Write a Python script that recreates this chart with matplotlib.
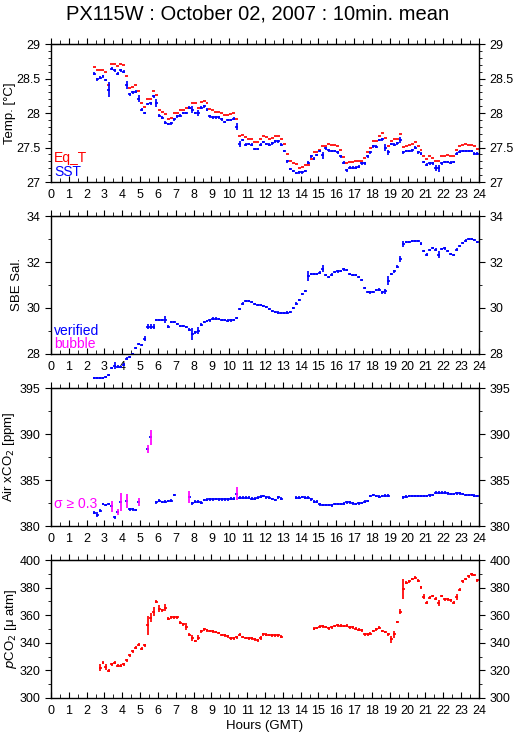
import numpy as np
import matplotlib
matplotlib.use("Agg")
import matplotlib.pyplot as plt
from matplotlib.ticker import MultipleLocator

plt.rcParams['font.family'] = ['Liberation Sans', 'DejaVu Sans']

nan = np.nan

# 10-min means, first one centred at 02:25 GMT
t_start = 2 + 25 / 60.0
t_step = 10 / 60.0

eq_t = [28.66, 28.62, 28.62, 28.62, 28.60, 28.41, 28.71, 28.71, 28.68, 28.71,
        28.69, 28.54, 28.36, 28.38, 28.40, 28.32, 28.15, 28.09, 28.20, 28.21,
        28.32, 28.26, 28.05, 28.02, 27.98, 27.92, 27.93, 28.00, 28.00, 28.04,
        28.05, 28.07, 28.07, 28.14, 28.15, 28.08, 28.16, 28.17, 28.15, 28.06,
        28.04, 28.02, 28.02, 28.00, 27.97, 27.97, 27.99, 28.00, 27.91, 27.66,
        27.68, 27.65, 27.63, 27.63, 27.58, 27.58, 27.63, 27.67, 27.65, 27.63,
        27.64, 27.67, 27.67, 27.63, 27.55, 27.40, 27.30, 27.28, 27.26, 27.21,
        27.22, 27.24, 27.25, 27.34, 27.43, 27.43, 27.46, 27.52, 27.52, 27.55,
        27.54, 27.53, 27.52, 27.47, 27.36, 27.27, 27.29, 27.29, 27.30, 27.30,
        27.31, 27.35, 27.44, 27.50, 27.60, 27.60, 27.66, 27.71, 27.64, 27.52,
        27.60, 27.62, 27.63, 27.70, 27.51, 27.52, 27.54, 27.55, 27.58, 27.52,
        27.47, 27.37, 27.34, 27.37, 27.35, 27.31, 27.31, 27.38, 27.38, 27.39,
        27.38, 27.38, 27.47, 27.52, 27.53, 27.55, 27.54, 27.54, 27.52, 27.48]

sst = [28.57, 28.49, 28.51, 28.53, 28.48, 28.34, 28.64, 28.62, 28.57, 28.62,
       28.60, 28.41, 28.27, 28.30, 28.31, 28.21, 28.05, 28.00, 28.13, 28.14,
       28.24, 28.15, 27.96, 27.93, 27.86, 27.84, 27.85, 27.91, 27.95, 27.96,
       28.00, 28.00, 28.08, 28.05, 28.00, 28.00, 28.08, 28.10, 28.05, 27.95,
       27.94, 27.94, 27.94, 27.91, 27.87, 27.90, 27.90, 27.92, 27.80, 27.55,
       27.61, 27.54, 27.55, 27.54, 27.48, 27.48, 27.54, 27.58, 27.55, 27.54,
       27.56, 27.59, 27.59, 27.54, 27.45, 27.30, 27.19, 27.16, 27.13, 27.14,
       27.14, 27.16, 27.28, 27.37, 27.34, 27.39, 27.45, 27.39, 27.49, 27.46,
       27.45, 27.45, 27.43, 27.37, 27.28, 27.17, 27.21, 27.21, 27.21, 27.22,
       27.27, 27.27, 27.37, 27.43, 27.52, 27.51, 27.61, 27.62, 27.50, 27.43,
       27.55, 27.54, 27.56, 27.61, 27.43, 27.45, 27.45, 27.46, 27.50, 27.43,
       27.41, 27.29, 27.25, 27.27, 27.27, 27.20, 27.20, 27.27, 27.29, 27.29,
       27.28, 27.29, 27.41, 27.44, 27.45, 27.45, 27.45, 27.45, 27.41, 27.41]
sst_err = 0.02
sst_big_err = {5: 0.11, 11: 0.06, 15: 0.05, 21: 0.06, 33: 0.05, 35: 0.04,
               48: 0.05, 49: 0.04, 77: 0.05, 98: 0.05, 99: 0.04, 103: 0.04,
               115: 0.04, 116: 0.05}

sal = [26.97, 26.96, 26.97, 26.97, 27.00, 27.08, 27.38, 27.49, 27.45, 27.44,
       27.54, 27.80, 27.88, 28.01, 28.26, 28.43, 28.39, 28.67, 29.19, 29.19,
       29.19, 29.48, 29.48, 29.48, 29.48, 29.19, 29.38, 29.39, 29.30, 29.23,
       29.23, 29.16, 29.06, 28.87, 28.94, 29.01, 29.28, 29.39, 29.42, 29.46,
       29.54, 29.54, 29.52, 29.48, 29.48, 29.45, 29.46, 29.49, 29.57, 29.97,
       30.19, 30.29, 30.29, 30.26, 30.17, 30.14, 30.12, 30.10, 30.04, 29.97,
       29.88, 29.83, 29.80, 29.77, 29.78, 29.80, 29.83, 30.00, 30.19, 30.36,
       30.62, 30.74, 31.39, 31.49, 31.49, 31.49, 31.54, 31.71, 31.42, 31.36,
       31.45, 31.57, 31.59, 31.61, 31.68, 31.65, 31.49, 31.42, 31.42, 31.36,
       31.22, 30.88, 30.71, 30.68, 30.71, 30.78, 30.80, 30.68, 30.72, 31.19,
       31.48, 31.59, 31.80, 32.13, 32.78, 32.86, 32.88, 32.91, 32.91, 32.90,
       32.80, 32.49, 32.32, 32.52, 32.61, 32.54, 32.32, 32.58, 32.59, 32.49,
       32.35, 32.30, 32.54, 32.71, 32.83, 32.93, 32.99, 33.00, 32.97, 32.87]
sal_err = 0.05
sal_big_err = {7: 0.15, 17: 0.12, 18: 0.1, 19: 0.1, 20: 0.1, 24: 0.15,
               33: 0.25, 35: 0.15, 72: 0.2, 77: 0.15, 98: 0.1, 99: 0.18,
               103: 0.12, 104: 0.12, 116: 0.15}

air = [381.45, 381.23, 381.67, 382.40, 382.29, 382.40, 382.14, 380.94, 381.52, 382.58,
       nan, 382.72, 381.81, 381.81, 381.74, 382.58, nan, nan, 388.35, 389.66,
       nan, 382.58, 382.76, 382.61, 382.65, 382.72, 382.76, 383.38, nan, nan,
       nan, nan, 383.12, 382.47, 382.65, 382.65, 382.54, 382.83, 382.87, 382.90,
       382.90, 382.94, 382.90, 382.90, 382.90, 382.90, 382.98, 382.98, 383.49, 383.09,
       383.09, 383.09, 383.09, 382.98, 382.98, 383.09, 383.19, 383.27, 383.12, 383.09,
       382.94, 382.83, 383.12, 382.98, nan, nan, nan, nan, 383.09, 383.09,
       383.16, 383.09, 383.09, 382.90, 382.65, 382.65, 382.36, 382.29, 382.29, 382.29,
       382.25, 382.40, 382.40, 382.40, 382.43, 382.58, 382.58, 382.47, 382.40, 382.47,
       382.51, 382.65, 382.72, 383.27, 383.38, 383.27, 383.19, 383.27, 383.30, 383.30,
       nan, nan, nan, nan, 383.12, 383.19, 383.27, 383.27, 383.27, 383.27,
       383.27, 383.27, 383.27, 383.34, 383.38, 383.63, 383.63, 383.63, 383.63, 383.56,
       383.49, 383.49, 383.56, 383.56, 383.49, 383.38, 383.38, 383.38, 383.30, 383.27]
air_err = 0.15
air_big_err = {1: 0.25, 7: 0.2}
# sigma >= 0.3 (magenta)
air_flag_err = {6: 0.6, 8: 0.36, 9: 0.96, 11: 0.78, 15: 0.45, 18: 0.42,
                19: 0.82, 32: 0.64, 48: 0.7}

pco2 = [nan, nan, 321.8, 325.5, 322.6, 319.9, 324.5, 325.5, 323.5, 323.5,
        324.3, 327.4, 330.8, 333.7, 336.4, 338.6, 335.7, 338.1, 352.7, 358.3,
        362.6, 369.9, 364.8, 363.6, 365.3, 357.5, 358.5, 358.5, 358.5, 354.6,
        353.4, 351.7, 345.9, 343.4, 341.3, 343.7, 348.3, 349.8, 349.0, 348.5,
        348.3, 347.8, 347.1, 345.6, 345.4, 344.7, 343.2, 343.2, 343.9, 345.9,
        344.2, 343.4, 343.2, 343.2, 342.5, 341.7, 343.7, 346.1, 345.9, 345.6,
        345.4, 345.4, 345.4, 344.4, nan, nan, nan, nan, nan, nan,
        nan, nan, nan, nan, 350.2, 350.7, 351.7, 351.9, 351.5, 350.5,
        351.2, 352.2, 352.7, 352.4, 352.2, 352.4, 351.2, 351.2, 350.2, 349.5,
        349.0, 346.1, 346.1, 346.6, 348.5, 349.8, 351.0, 348.5, 347.8, 346.1,
        342.5, 346.1, 355.1, 362.6, 378.9, 383.7, 384.7, 386.2, 387.1, 384.9,
        380.1, 373.5, 369.2, 372.8, 374.0, 372.1, 368.7, 374.0, 371.6, 371.4,
        370.9, 369.2, 373.3, 378.6, 384.5, 386.2, 388.1, 389.6, 389.1, 385.4]
pco2_err = 1.0
pco2_big_err = {2: 2.5, 4: 2.0, 18: 6.7, 19: 3.0, 20: 3.5, 22: 2.5, 24: 2.5,
                31: 2.5, 33: 2.0, 35: 2.0, 56: 1.5, 100: 2.5, 101: 2.5,
                103: 2.0, 104: 7.3, 111: 2.0, 116: 2.0, 122: 2.0}

hours = t_start + t_step * np.arange(len(sst))
half = t_step / 2
LW = 1.25


def errs(n, base, big):
    e = np.full(n, base)
    for k, v in big.items():
        e[k] = v
    return e


def crosses(ax, y, yerr, color, clip=True):
    eb = ax.errorbar(hours, y, xerr=half, yerr=yerr, fmt='none',
                     ecolor=color, elinewidth=LW, capsize=0)
    for c in eb.lines[2]:
        c.set_clip_on(clip)
    return eb


def style(ax, ylim, major, minor, ylabel, labx):
    ax.set_xlim(0, 24)
    ax.set_ylim(*ylim)
    ax.xaxis.set_major_locator(MultipleLocator(1))
    ax.xaxis.set_minor_locator(MultipleLocator(0.5))
    ax.yaxis.set_major_locator(MultipleLocator(major))
    ax.yaxis.set_minor_locator(MultipleLocator(minor))
    ax.tick_params(axis='x', which='both', direction='in', top=False,
                   labelsize=9, pad=5)
    ax.tick_params(axis='x', which='major', length=4)
    ax.tick_params(axis='x', which='minor', length=3)
    ax.tick_params(axis='y', which='both', direction='out', left=True,
                   right=True, labelright=True, labelsize=9)
    ax.tick_params(axis='y', which='major', length=4)
    ax.tick_params(axis='y', which='minor', length=2.5)
    sec = ax.secondary_xaxis('top')
    sec.xaxis.set_major_locator(MultipleLocator(1))
    sec.xaxis.set_minor_locator(MultipleLocator(0.5))
    sec.tick_params(which='both', direction='out', labeltop=False)
    sec.tick_params(which='major', length=4)
    sec.tick_params(which='minor', length=3)
    ax.set_ylabel(ylabel, fontsize=9.5)
    ax.yaxis.set_label_coords(labx, 0.5)
    for s in ax.spines.values():
        s.set_linewidth(1.0)
    ax.yaxis.set_major_formatter(plt.FuncFormatter(lambda v, p: f"{v:g}"))


fig = plt.figure(figsize=(5.15, 7.39), dpi=100)
fig.text(0.5, 0.981, "PX115W : October 02, 2007 : 10min. mean",
         ha='center', va='center', fontsize=14.5)

left, width, height = 0.099, 0.831, 0.1867
bottoms = [0.7537, 0.521, 0.2882, 0.0555]
ax1, ax2, ax3, ax4 = [fig.add_axes([left, b, width, height]) for b in bottoms]

n = len(hours)

# Temperature
crosses(ax1, eq_t, None, 'red')
crosses(ax1, sst, errs(n, sst_err, sst_big_err), 'blue')
style(ax1, (27, 29), 0.5, 0.1, "Temp. [°C]", -0.082)
ax1.text(0.007, 0.175, "Eq_T", color='red', fontsize=10, transform=ax1.transAxes, va='center')
ax1.text(0.007, 0.07, "SST", color='blue', fontsize=10, transform=ax1.transAxes, va='center')

# Salinity
crosses(ax2, sal, errs(n, sal_err, sal_big_err), 'blue', clip=False)
style(ax2, (28, 34), 2, 1, "SBE Sal.", -0.066)
ax2.text(0.007, 0.165, "verified", color='blue', fontsize=10, transform=ax2.transAxes, va='center')
ax2.text(0.007, 0.07, "bubble", color='magenta', fontsize=10, transform=ax2.transAxes, va='center')

# Air xCO2
air_e = errs(n, air_err, air_big_err)
flag = np.zeros(n, bool)
for k, v in air_flag_err.items():
    air_e[k] = v
    flag[k] = True
air_arr = np.array(air)
ax3.errorbar(hours, air_arr, xerr=half, fmt='none', ecolor='blue', elinewidth=LW, capsize=0)
ax3.errorbar(hours, np.where(flag, nan, air_arr), yerr=air_e, fmt='none',
             ecolor='blue', elinewidth=LW, capsize=0)
ax3.errorbar(hours, np.where(flag, air_arr, nan), yerr=air_e, fmt='none',
             ecolor='magenta', elinewidth=LW, capsize=0)
style(ax3, (380, 395), 5, 2.5, "Air xCO$_2$ [ppm]", -0.08)
ax3.text(0.007, 0.16, "σ ≥ 0.3", color='magenta', fontsize=10, transform=ax3.transAxes, va='center')

# pCO2
crosses(ax4, pco2, errs(n, pco2_err, pco2_big_err), 'red')
style(ax4, (300, 400), 20, 10, "$p$CO$_2$ [μ atm]", -0.074)
ax4.set_xlabel("Hours (GMT)", fontsize=9.5, labelpad=2)

fig.savefig("out.png", dpi=100)
